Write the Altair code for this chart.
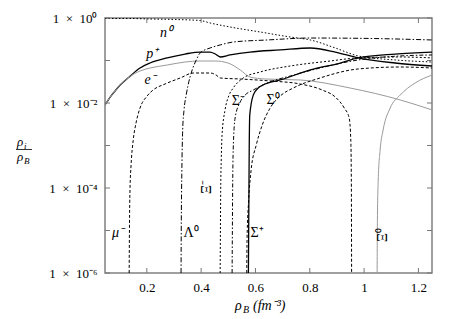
import altair as alt
import pandas as pd

W, H = 327, 255
FONT = "Liberation Serif"

# ---------------- data ----------------
n0_rho = [0.046, 0.138, 0.212, 0.304, 0.396, 0.433, 0.507, 0.617, 0.728, 0.802, 0.894, 0.978, 1.114, 1.251]
n0_frac = [0.973, 0.973, 0.947, 0.922, 0.873, 0.763, 0.614, 0.469, 0.357, 0.304, 0.197, 0.128, 0.103, 0.0922]

p_rho = [0.046, 0.065, 0.083, 0.102, 0.135, 0.175, 0.212, 0.275, 0.341, 0.396, 0.433, 0.452, 0.470, 0.507,
         0.580, 0.691, 0.802, 0.894, 0.978, 1.114, 1.251]
p_frac = [0.00897, 0.0138, 0.0192, 0.0265, 0.0409, 0.0666, 0.0873, 0.115, 0.142, 0.158, 0.158, 0.142, 0.121,
          0.135, 0.158, 0.177, 0.197, 0.158, 0.115, 0.0873, 0.0742]

e_rho = [0.046, 0.065, 0.083, 0.102, 0.135, 0.175, 0.212, 0.275, 0.341, 0.396, 0.452, 0.499, 0.544, 0.580,
         0.636, 0.765, 0.949, 1.133, 1.251]
e_frac = [0.00897, 0.0138, 0.0192, 0.0265, 0.0409, 0.0566, 0.0666, 0.0783, 0.0922, 0.0973, 0.0973, 0.0873,
          0.0598, 0.0409, 0.0367, 0.0348, 0.0225, 0.0118, 0.00685]

mu_rho = [0.135, 0.136, 0.138, 0.142, 0.150, 0.161, 0.175, 0.201, 0.223, 0.267, 0.323, 0.371, 0.433, 0.455,
          0.470, 0.544, 0.654, 0.765, 0.846, 0.894, 0.927, 0.945, 0.951, 0.953, 0.954]
mu_frac = [1e-6, 1.03e-5, 8.97e-5, 3.48e-4, 0.00135, 0.00357, 0.00762, 0.0146, 0.0202, 0.0280, 0.0388, 0.0508,
           0.0508, 0.0456, 0.0388, 0.0367, 0.0330, 0.0280, 0.0202, 0.0138, 0.00762, 0.00444, 0.00135,
           0.000154, 1e-6]

lam_rho = [0.326, 0.327, 0.329, 0.332, 0.337, 0.345, 0.352, 0.367, 0.382, 0.396, 0.433, 0.470, 0.518, 0.643,
           0.802, 1.022, 1.251]
lam_frac = [1e-6, 1.77e-5, 2.65e-4, 0.00232, 0.00685, 0.0154, 0.0265, 0.0598, 0.103, 0.150, 0.197, 0.232,
            0.272, 0.304, 0.338, 0.330, 0.304]

xim_rho = [0.470, 0.471, 0.472, 0.474, 0.477, 0.488, 0.503, 0.518, 0.555, 0.617, 0.728, 0.875, 0.978, 1.133, 1.251]
xim_frac = [1e-6, 1.03e-5, 8.97e-5, 4.56e-4, 0.00177, 0.00685, 0.0154, 0.0225, 0.0388, 0.0536, 0.0742, 0.0973,
            0.115, 0.121, 0.115]

sm_rho = [0.514, 0.515, 0.516, 0.518, 0.525, 0.544, 0.562, 0.592, 0.643, 0.728, 0.838, 0.978, 1.133, 1.251]
sm_frac = [1e-6, 1.03e-5, 8.97e-5, 7.83e-4, 0.00444, 0.0106, 0.0154, 0.0202, 0.0296, 0.0432, 0.0666, 0.103,
           0.128, 0.135]

sp_rho = [0.574, 0.575, 0.576, 0.577, 0.579, 0.592, 0.610, 0.628, 0.691, 0.802, 0.912, 0.978, 1.114, 1.251]
sp_frac = [1e-6, 1.03e-5, 8.97e-5, 7.83e-4, 0.00522, 0.0154, 0.0225, 0.0265, 0.0348, 0.0598, 0.0873, 0.115,
           0.142, 0.158]

s0_rho = [0.568, 0.569, 0.575, 0.584, 0.603, 0.625, 0.654, 0.691, 0.739, 0.838, 0.978, 1.133, 1.251]
s0_frac = [1e-6, 5.98e-6, 5.22e-5, 2.65e-4, 0.00103, 0.00303, 0.00762, 0.0146, 0.0225, 0.0388, 0.0631,
           0.0703, 0.0666]

xi0_rho = [1.048, 1.049, 1.052, 1.059, 1.070, 1.096, 1.133, 1.188, 1.251]
xi0_frac = [1e-6, 1.77e-5, 1.54e-4, 7.83e-4, 0.00232, 0.00762, 0.0154, 0.0296, 0.0456]

# curve labels
ital_text = ["n⁰", "p⁺", "e⁻", "μ⁻"]
ital_rho = [0.271, 0.220, 0.212, 0.094]
ital_frac = [0.444, 0.142, 0.0348, 8.7e-6]

greek_text = ["Λ⁰", "Σ⁺", "Σ⁻", "Σ⁰"]
greek_rho = [0.363, 0.606, 0.537, 0.665]
greek_frac = [8.7e-6, 8.7e-6, 0.0111, 0.0118]

rot_text = ["Ξ⁻", "Ξ⁰"]
rot_rho = [0.422, 1.071]
rot_frac = [1.06e-4, 7.8e-6]

x_ticks = [0.2, 0.4, 0.6, 0.8, 1.0, 1.2]
y_ticks = [1, 0.1, 0.01, 0.001, 1e-4, 1e-5, 1e-6]
y_labels = [1, 1e-2, 1e-4, 1e-6]

# ---------------- scales / axes ----------------
xscale = alt.Scale(domain=[0.046, 1.25], nice=False, zero=False)
yscale = alt.Scale(type="log", domain=[1e-6, 1], nice=False)

x_axis = alt.Axis(values=x_ticks, format="~g", ticks=False, domain=False, grid=False, title=None,
                  labelFont=FONT, labelFontSize=13, labelColor="black", labelPadding=8)
y_axis = alt.Axis(values=y_labels, ticks=False, domain=False, grid=False, title=None,
                  labelFont=FONT, labelFontSize=13, labelColor="black", labelPadding=8,
                  labelExpr="datum.value > 0.5 ? '1\u2002×\u200210⁰' : datum.value > 0.005 ? '1\u2002×\u200210⁻²' : "
                            "datum.value > 0.00005 ? '1\u2002×\u200210⁻⁴' : '1\u2002×\u200210⁻⁶'")


def X(field):
    return alt.X(field, type="quantitative", scale=xscale, axis=x_axis)


def Y(field):
    return alt.Y(field, type="quantitative", scale=yscale, axis=y_axis)


series = [
    ("n0", n0_rho, n0_frac, "black", [1.5, 2], 1.0),
    ("p", p_rho, p_frac, "black", None, 1.3),
    ("e", e_rho, e_frac, "#9a9a9a", None, 1.0),
    ("mu", mu_rho, mu_frac, "black", [3, 2], 1.0),
    ("lam", lam_rho, lam_frac, "black", [5, 2, 1.5, 2], 1.0),
    ("xim", xim_rho, xim_frac, "black", [2, 2], 1.0),
    ("sm", sm_rho, sm_frac, "black", [4, 2, 1.5, 2], 1.0),
    ("s0", s0_rho, s0_frac, "black", [3, 2], 1.0),
    ("sp", sp_rho, sp_frac, "black", None, 1.3),
    ("xi0", xi0_rho, xi0_frac, "#9a9a9a", None, 1.0),
]

layers = []
for name, xs, ys, col, dash, sw in series:
    df = pd.DataFrame({"rho": xs, "frac": ys})
    kw = dict(color=col, strokeWidth=sw, interpolate="monotone", clip=True)
    if dash:
        kw["strokeDash"] = dash
    layers.append(alt.Chart(df).mark_line(**kw).encode(x=X("rho"), y=Y("frac")))

# inward mirrored ticks
xt_df = pd.DataFrame({"rho": x_ticks})
yt_df = pd.DataFrame({"frac": y_ticks})
tick_col = "#777777"
for y0, y1 in [(H, H - 5), (0, 5)]:
    layers.append(alt.Chart(xt_df).mark_rule(color=tick_col, strokeWidth=1).encode(
        x=X("rho"), y=alt.value(y0), y2=alt.value(y1)))
for x0, x1 in [(0, 5), (W, W - 5)]:
    layers.append(alt.Chart(yt_df).mark_rule(color=tick_col, strokeWidth=1).encode(
        y=Y("frac"), x=alt.value(x0), x2=alt.value(x1)))

# curve labels
for texts, xs, ys, style, ang in [(ital_text, ital_rho, ital_frac, "italic", 0),
                                  (greek_text, greek_rho, greek_frac, "normal", 0),
                                  (rot_text, rot_rho, rot_frac, "normal", 270)]:
    df = pd.DataFrame({"rho": xs, "frac": ys, "t": texts})
    layers.append(alt.Chart(df).mark_text(font=FONT, fontSize=14, fontStyle=style, angle=ang,
                                          align="center", baseline="middle", color="black").encode(
        x=X("rho"), y=Y("frac"), text="t:N"))

# axis titles (built from text pieces)
one = alt.Data(values=[{"k": 0}])


def txt(s, x, y, size=14, style="italic", align="left"):
    return alt.Chart(one).mark_text(font=FONT, fontSize=size, fontStyle=style, align=align,
                                    baseline="alphabetic", color="black").encode(
        x=alt.value(x), y=alt.value(y), text=alt.value(s))


layers += [
    txt("ρ", 130, 292),
    txt("B", 138, 295, size=10),
    txt("(fm⁻³)", 148, 292),
    txt("ρ", -88, 128, size=13),
    txt("i", -81, 131, size=9),
    txt("ρ", -88, 143, size=13),
    txt("B", -81, 146, size=9),
    alt.Chart(one).mark_rule(color="black", strokeWidth=0.8).encode(
        x=alt.value(-89), x2=alt.value(-73), y=alt.value(131.5)),
]

chart = alt.layer(*layers).properties(
    width=W, height=H,
    padding={"left": 97, "top": 10, "right": 14, "bottom": 48},
    autosize=alt.AutoSizeParams(type="none"),
).configure_view(stroke="#808080", strokeWidth=1.5)

chart.save("out.html", embed_options={"renderer": "svg", "actions": False})
